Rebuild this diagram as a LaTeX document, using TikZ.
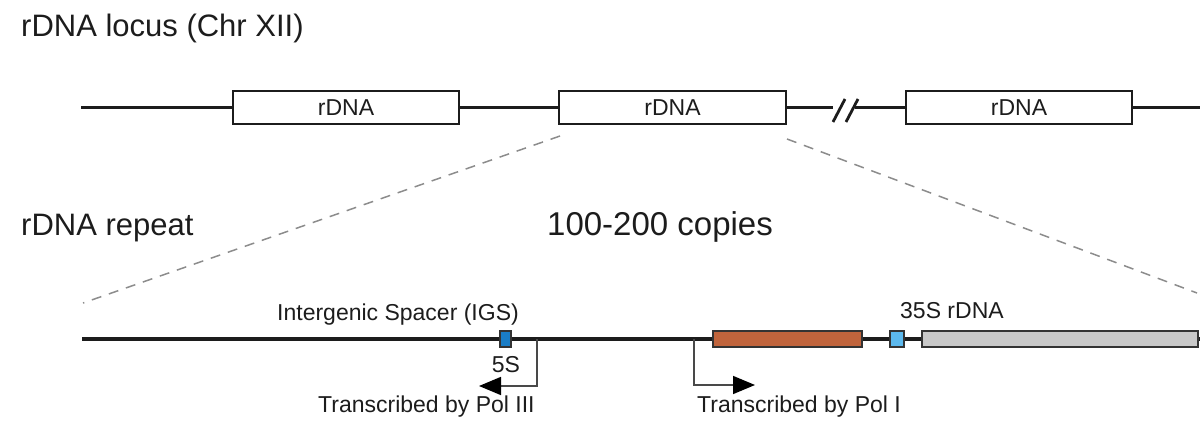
\documentclass[tikz,border=0pt]{standalone}
\usepackage{fontspec}
\setmainfont{Liberation Sans}
\usetikzlibrary{arrows.meta,calc}
\definecolor{txt}{HTML}{1C1C1C}
\definecolor{fsblue}{HTML}{1A7DC6}
\definecolor{ltblue}{HTML}{5CB9EE}
\definecolor{rust}{HTML}{C0643C}
\definecolor{ltgray}{HTML}{C8C8C8}
\definecolor{dashgray}{HTML}{8C8C8C}
\tikzset{
  big/.style={font=\fontsize{31}{31}\selectfont, text=txt, inner sep=0pt},
  bigger/.style={font=\fontsize{33}{33}\selectfont, text=txt, inner sep=0pt},
  small/.style={font=\fontsize{23}{23}\selectfont, text=txt, inner sep=0pt},
  rbox/.style={draw=txt, line width=1.4pt, fill=white, minimum height=33pt, inner sep=0pt, font=\fontsize{23}{23}\selectfont, text=txt},
  gene/.style={draw=txt!90, line width=1.3pt, minimum height=16pt, inner sep=0pt},
  chrom/.style={line width=3.3pt, draw=txt},
  repline/.style={line width=3.2pt, draw=txt},
  zoomline/.style={dashed, dash pattern=on 10pt off 8pt, line width=1.5pt, draw=dashgray},
  tss/.style={line width=1.6pt, draw=txt!80, -{Triangle[length=22pt, width=18pt, color=black]}},
  brk/.style={line width=2.8pt, draw=txt},
}
\begin{document}
\begin{tikzpicture}[x=1pt,y=-1pt]
\useasboundingbox (0,0) rectangle (1200,427);

% titles
\node[big, anchor=base west] (title) at (21,37) {rDNA locus (Chr XII)};
\node[big, anchor=base west] (reptitle) at (21,236) {rDNA repeat};
\node[bigger, anchor=base west] (copies) at (547,236) {100-200 copies};

% chromosome line with rDNA boxes
\coordinate (cl) at (81,107.5);
\coordinate (cr) at (1200,107.5);
\coordinate (b1) at (833,107.5);
\coordinate (b2) at (855,107.5);
\node[rbox, minimum width=226pt] (box1) at (346,107.5) {rDNA};
\node[rbox, minimum width=227pt] (box2) at (672.5,107.5) {rDNA};
\node[rbox, minimum width=226pt] (box3) at (1019,107.5) {rDNA};
\draw[chrom] (cl) -- (box1.west);
\draw[chrom] (box1.east) -- (box2.west);
\draw[chrom] (box2.east) -- (b1);
\draw[chrom] (b2) -- (box3.west);
\draw[chrom] (box3.east) -- (cr);
% break marks
\coordinate (s1a) at (833,122);
\coordinate (s1b) at (845,99);
\coordinate (s2a) at (846,122);
\coordinate (s2b) at (858,99);
\draw[brk] (s1a) -- (s1b);
\draw[brk] (s2a) -- (s2b);

% zoom lines
\coordinate (zl1) at (560,136);
\coordinate (zl2) at (83,303);
\coordinate (zr1) at (787,139);
\coordinate (zr2) at (1197,293);
\draw[zoomline] (zl1) -- (zl2);
\draw[zoomline] (zr1) -- (zr2);

% repeat line
\coordinate (rl) at (82,339);
\coordinate (rr) at (1200,339);
\draw[repline] (rl) -- (rr);

% transcription start arrows
\coordinate (p3a) at (537,339);
\coordinate (p3b) at (537,386);
\coordinate (p3c) at (479,386);
\draw[tss] (p3a) -- (p3b) -- (p3c);
\coordinate (p1a) at (694,339);
\coordinate (p1b) at (694,385);
\coordinate (p1c) at (755,385);
\draw[tss] (p1a) -- (p1b) -- (p1c);

% genes
\node[gene, fill=fsblue, minimum width=11pt] (fiveS) at (505.5,339) {};
\node[gene, fill=rust, minimum width=149pt] (ets) at (787.5,339) {};
\node[gene, fill=ltblue, minimum width=14pt] (small) at (897,339) {};
\node[gene, fill=ltgray, minimum width=276pt] (rest) at (1060,339) {};

% labels
\node[small, anchor=base west] (igs) at (277,321) {Intergenic Spacer (IGS)};
\node[small, anchor=base west] (s35) at (900,319) {35S rDNA};
\node[small, anchor=base] (l5s) at (506,373) {5S};
\node[small, anchor=base west] (pol3) at (318,413) {Transcribed by Pol III};
\node[small, anchor=base west] (pol1) at (697,413) {Transcribed by Pol I};
\end{tikzpicture}
\end{document}
